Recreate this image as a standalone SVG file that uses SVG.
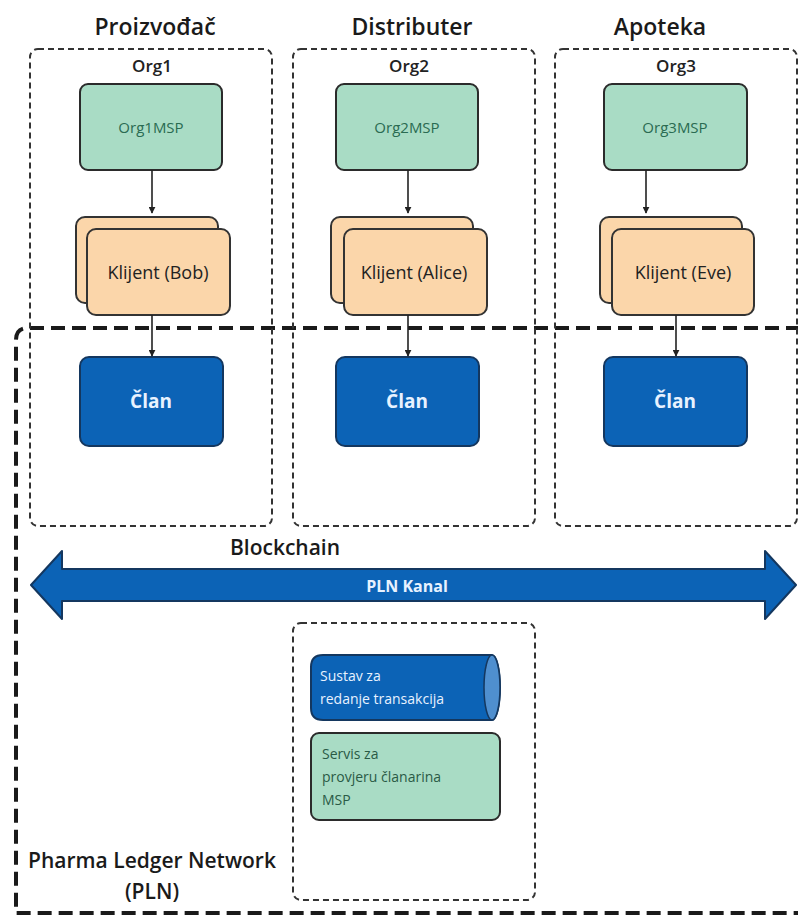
<svg xmlns="http://www.w3.org/2000/svg" width="798" height="916" viewBox="0 0 798 916">
<defs>
<style>
text{font-family:"Open Sans","Noto Sans","DejaVu Sans",sans-serif}
.title{font-size:23px;font-weight:600;fill:#1a1a1a;text-anchor:middle}
.org{font-size:17px;font-weight:600;fill:#222;text-anchor:middle}
.orgbox{fill:none;stroke:#333;stroke-width:2;stroke-dasharray:6 4}
.msp{fill:#a9dcc5;stroke:#2b2b2b;stroke-width:2}
.msptxt{font-size:15px;fill:#2a6b52;text-anchor:middle}
.cli{fill:#fbd6aa;stroke:#333;stroke-width:2}
.clitxt{font-size:18px;fill:#222;text-anchor:middle}
.peer{fill:#0c63b6;stroke:#14375f;stroke-width:2}
.peertxt{font-size:19px;font-weight:700;fill:#e8f2ff;text-anchor:middle}
.conn{stroke:#222;stroke-width:1.6;fill:none}
.pln{fill:none;stroke:#1a1a1a;stroke-width:4;stroke-dasharray:14 7}
</style>
<marker id="ah" viewBox="0 0 10 10" refX="9" refY="5" markerWidth="7" markerHeight="7" orient="auto" markerUnits="userSpaceOnUse">
<path d="M0,0 L10,5 L0,10 z" fill="#222"/>
</marker>
</defs>
<rect width="798" height="916" fill="#ffffff"/>

<g id="pln-network">
<path class="pln" d="M800,328 L28,328 Q16,328 16,340 L16,913 L800,913"/>
<text x="152" y="868" font-size="21" font-weight="600" fill="#1a1a1a" text-anchor="middle">Pharma Ledger Network</text>
<text x="152" y="899" font-size="21" font-weight="600" fill="#1a1a1a" text-anchor="middle">(PLN)</text>
</g>

<g id="org1">
<text class="title" x="155" y="35">Proizvođač</text>
<rect class="orgbox" x="30" y="49" width="242" height="477" rx="8"/>
<text class="org" x="152" y="72">Org1</text>
</g>
<g id="org2">
<text class="title" x="412" y="35">Distributer</text>
<rect class="orgbox" x="293" y="49" width="242" height="477" rx="8"/>
<text class="org" x="409" y="72">Org2</text>
</g>
<g id="org3">
<text class="title" x="660" y="35">Apoteka</text>
<rect class="orgbox" x="555" y="49" width="242" height="477" rx="8"/>
<text class="org" x="676" y="72">Org3</text>
</g>

<g id="org1msp"><rect class="msp" x="80" y="84" width="142" height="86" rx="8"/><text class="msptxt" x="151" y="133">Org1MSP</text></g>
<g id="org2msp"><rect class="msp" x="336" y="84" width="142" height="86" rx="8"/><text class="msptxt" x="407" y="133">Org2MSP</text></g>
<g id="org3msp"><rect class="msp" x="604" y="84" width="143" height="86" rx="8"/><text class="msptxt" x="675" y="133">Org3MSP</text></g>

<g id="klijent-bob">
<rect class="cli" x="76" y="217" width="142" height="86" rx="9"/>
<rect class="cli" x="87" y="229" width="143" height="86" rx="9"/>
<text class="clitxt" x="158" y="279">Klijent (Bob)</text>
</g>
<g id="klijent-alice">
<rect class="cli" x="331" y="217" width="142" height="86" rx="9"/>
<rect class="cli" x="344" y="229" width="143" height="86" rx="9"/>
<text class="clitxt" x="414" y="279">Klijent (Alice)</text>
</g>
<g id="klijent-eve">
<rect class="cli" x="600" y="217" width="142" height="86" rx="9"/>
<rect class="cli" x="612" y="229" width="142" height="86" rx="9"/>
<text class="clitxt" x="683" y="279">Klijent (Eve)</text>
</g>

<g id="clan1"><rect class="peer" x="80" y="357" width="143" height="89" rx="9"/><text class="peertxt" x="151" y="408">Član</text></g>
<g id="clan2"><rect class="peer" x="336" y="357" width="143" height="89" rx="9"/><text class="peertxt" x="407" y="408">Član</text></g>
<g id="clan3"><rect class="peer" x="604" y="357" width="143" height="89" rx="9"/><text class="peertxt" x="675" y="408">Član</text></g>

<g id="connectors">
<line class="conn" x1="152" y1="170" x2="152" y2="213" marker-end="url(#ah)"/>
<line class="conn" x1="408" y1="170" x2="408" y2="213" marker-end="url(#ah)"/>
<line class="conn" x1="646" y1="170" x2="646" y2="213" marker-end="url(#ah)"/>
<line class="conn" x1="152" y1="315" x2="152" y2="356" marker-end="url(#ah)"/>
<line class="conn" x1="408" y1="315" x2="408" y2="356" marker-end="url(#ah)"/>
<line class="conn" x1="676" y1="315" x2="676" y2="356" marker-end="url(#ah)"/>
</g>

<g id="blockchain">
<text x="285" y="555" font-size="21" font-weight="600" fill="#1a1a1a" text-anchor="middle">Blockchain</text>
<path d="M31,585 L62,551 L62,569 L765,569 L765,551 L796,585 L765,619 L765,601 L62,601 L62,619 Z" fill="#0c63b6" stroke="#14375f" stroke-width="2" stroke-linejoin="round"/>
<text x="407" y="592" font-size="16" font-weight="700" fill="#e8f2ff" text-anchor="middle">PLN Kanal</text>
</g>

<g id="ordering-box">
<rect class="orgbox" x="293" y="623" width="242" height="277" rx="8"/>
</g>
<g id="sustav">
<path d="M323,655 L492,655 A8,32.5 0 0 1 492,720 L323,720 Q311,720 311,708 L311,667 Q311,655 323,655 Z" fill="#0c63b6" stroke="#14375f" stroke-width="2"/>
<ellipse cx="492" cy="687.5" rx="8" ry="32.5" fill="#4f8fcf" stroke="#14375f" stroke-width="1.5"/>
<text x="320" y="681" font-size="14" fill="#e8f2ff">Sustav za</text>
<text x="320" y="704" font-size="14" fill="#e8f2ff">redanje transakcija</text>
</g>
<g id="servis">
<rect class="msp" x="311" y="733" width="189" height="87" rx="8"/>
<text x="322" y="759" font-size="14" fill="#2a5a45">Servis za</text>
<text x="322" y="782" font-size="14" fill="#2a5a45">provjeru članarina</text>
<text x="322" y="805" font-size="14" fill="#2a5a45">MSP</text>
</g>
</svg>
